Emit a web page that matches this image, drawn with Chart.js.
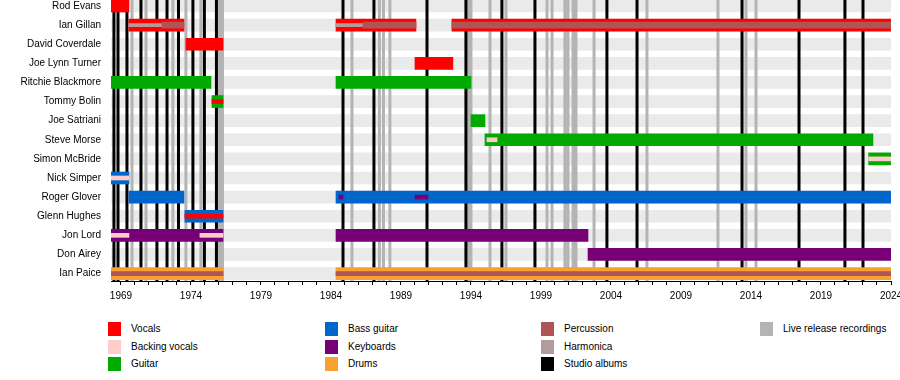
<!DOCTYPE html>
<html><head><meta charset="utf-8">
<script src="https://cdn.jsdelivr.net/npm/chart.js@4/dist/chart.umd.min.js"></script>
<style>
html,body{margin:0;padding:0;background:#fff;overflow:hidden;}
#wrap{position:relative;width:900px;height:380px;}
#c{position:absolute;left:0;top:0;}
.lg{position:absolute;font:10px "Liberation Sans",Arial,sans-serif;color:#000;white-space:nowrap;}
.sw{position:absolute;width:13px;height:14px;}
</style></head><body>
<div id="wrap"><canvas id="c" width="900" height="310"></canvas><div id="legend"></div></div>
<script>
// ---- data ----
const members = ['Rod Evans','Ian Gillan','David Coverdale','Joe Lynn Turner','Ritchie Blackmore','Tommy Bolin','Joe Satriani','Steve Morse','Simon McBride','Nick Simper','Roger Glover','Glenn Hughes','Jon Lord','Don Airey','Ian Paice'];
const timelineStart = 1968.29;
const timelineEnd = 2024.0;
const tickLabels = ['1969','1974','1979','1984','1989','1994','1999','2004','2009','2014','2019','2024'];

const vocals = [['Rod Evans',1968.29,1969.57],['Ian Gillan',1969.57,1973.5],['Ian Gillan',1984.36,1990.07],['Ian Gillan',1992.64,2024.0],['David Coverdale',1973.64,1976.29],['Joe Lynn Turner',1990.0,1992.71]];
const guitar = [['Ritchie Blackmore',1968.29,1975.43],['Ritchie Blackmore',1984.36,1994.0],['Tommy Bolin',1975.5,1976.29],['Joe Satriani',1994.0,1995.0],['Steve Morse',1995.0,2022.71],['Simon McBride',2022.4,2024.0]];
const bass = [['Nick Simper',1968.29,1969.57],['Roger Glover',1969.57,1973.5],['Roger Glover',1984.36,2024.0],['Glenn Hughes',1973.57,1976.29]];
const keyboards = [['Jon Lord',1968.29,1976.29],['Jon Lord',1984.36,2002.36],['Don Airey',2002.36,2024.0]];
const drums = [['Ian Paice',1968.29,1976.29],['Ian Paice',1984.36,2024.0]];
const additionalVocals = [['Tommy Bolin',1975.5,1976.29],['Glenn Hughes',1973.57,1976.29]];
const backingVocals = [['Nick Simper',1968.29,1969.57],['Jon Lord',1968.29,1969.57],['Jon Lord',1974.64,1976.29],['Steve Morse',1995.14,1995.86],['Simon McBride',2022.4,2024.0]];
const additionalKeyboards = [['Roger Glover',1984.57,1984.86],['Roger Glover',1990.0,1990.93]];
const percussionVocalist = [['Ian Gillan',1971.93,1973.5],['Ian Gillan',1986.29,1990.07],['Ian Gillan',1992.64,2024.0]];
const percussionDrummer = [['Ian Paice',1968.29,1976.29],['Ian Paice',1984.36,2024.0]];
const harmonica = [['Ian Gillan',1969.57,1973.5],['Ian Gillan',1984.36,1990.07],['Ian Gillan',1992.64,2024.0]];

const studioAlbums = [1968.5,1968.79,1969.43,1970.43,1971.57,1972.29,1973.11,1974.14,1974.96,1975.82,1984.86,1987.07,1990.86,1993.64,1996.21,1998.57,2003.71,2005.86,2013.36,2017.43,2020.71,2022.0];
const liveReleases = [1969.79,1970.79,1972.71,1973.64,1974.71,1976.04,1976.25,1985.5,1987.46,1987.75,1988.21,1993.79,1994.0,1995.36,1996.5,1999.43,1999.79,2000.71,2000.93,2001.29,2001.5,2002.79,2006.57,2011.64,2013.64,2014.36];

const legendLabels = ['Vocals','Backing vocals','Guitar','Bass guitar','Keyboards','Drums','Percussion','Harmonica','Studio albums','Live release recordings'];
const legendColors = ['#ff0000','#ffcccc','#00aa00','#0066cc','#770077','#f8a030','#b05555','#b39b9b','#000000','#b4b4b4'];

// ---- build ----
const C = {vocals:'#ff0000',bgv:'#ffcccc',guitar:'#00aa00',bass:'#0066cc',keys:'#770077',drums:'#f8a030',perc:'#b05555',harm:'#b39b9b',studio:'#000000',live:'#b4b4b4',row:'#eaeaea'};
const rowOf = n => members.indexOf(n);
const toBars = arr => arr.map(([m,s,e]) => ({x:[s,e], y:rowOf(m)}));
const yMin = -0.314, yMax = 14.39;
const toLines = arr => { const pts=[]; arr.forEach(v => { pts.push({x:v,y:yMin},{x:v,y:yMax},{x:null,y:null}); }); return pts; };

function barDs(data, color, thick, order){
  return {type:'bar', data:toBars(data), backgroundColor:color, barThickness:thick, grouped:false, borderWidth:0, borderSkipped:false, order:order};
}
function lineDs(data, color, width, order){
  return {type:'line', data:toLines(data), borderColor:color, borderWidth:width, pointRadius:0, pointHoverRadius:0, fill:false, tension:0, borderCapStyle:'butt', spanGaps:false, order:order};
}

const datasets = [
  {type:'bar', data:members.map((m,i)=>({x:[timelineStart,timelineEnd], y:i})), backgroundColor:C.row, barThickness:12, grouped:false, borderWidth:0, borderSkipped:false, order:30},
  lineDs(liveReleases, C.live, 3, 25),
  lineDs(studioAlbums, C.studio, 3, 24),
  barDs(vocals, C.vocals, 12, 10),
  barDs(guitar, C.guitar, 12, 10),
  barDs(bass, C.bass, 12, 10),
  barDs(keyboards, C.keys, 12, 10),
  barDs(drums, C.drums, 12, 10),
  barDs(harmonica, C.harm, 3, 8),
  barDs(percussionVocalist, C.perc, 6, 7),
  barDs(percussionDrummer, C.perc, 4, 7),
  barDs(additionalVocals, C.vocals, 4, 6),
  barDs(backingVocals, C.bgv, 4, 6),
  barDs(additionalKeyboards, C.keys, 4, 6)
];

const FONT = {family:'"Liberation Sans", Arial, sans-serif', size:10};
const years = []; for (let y = 1969; y <= 2024; y++) years.push(y);

new Chart(document.getElementById('c'), {
  type:'bar',
  data:{datasets},
  options:{
    indexAxis:'y',
    responsive:false,
    devicePixelRatio:1,
    animation:false,
    events:[],
    layout:{padding:0},
    plugins:{legend:{display:false}, tooltip:{enabled:false}},
    scales:{
      x:{
        type:'linear', min:timelineStart, max:timelineEnd, offset:false,
        afterBuildTicks:s=>{ s.ticks = years.map(v=>({value:v})); },
        afterFit:s=>{ s.height = 29; s.paddingLeft = 0; s.paddingRight = 9; },
        ticks:{autoSkip:false, maxRotation:0, minRotation:0, padding:5, color:'#000', font:FONT,
          callback:v=> tickLabels.includes(String(v)) ? String(v) : ''},
        grid:{display:true, offset:false, drawOnChartArea:false, drawTicks:true, tickLength:4, color:'#000', tickColor:'#000', lineWidth:1},
        border:{display:true, color:'#000', width:1}
      },
      y:{
        type:'linear', reverse:true, min:yMin, max:yMax, offset:false,
        afterBuildTicks:s=>{ s.ticks = members.map((m,i)=>({value:i})); },
        afterFit:s=>{ s.width = 111; s.paddingTop = 0; s.paddingBottom = 0; },
        ticks:{autoSkip:false, padding:10, color:'#000', font:FONT, callback:v=>members[v]},
        grid:{display:false, drawTicks:false, offset:false},
        border:{display:false}
      }
    }
  }
});

// legend
const lg = document.getElementById('legend');
const colX = [108, 325, 541, 760], rowY = [322, 340, 357];
legendLabels.forEach((lab,i)=>{
  const col = Math.floor(i/3), row = i%3;
  const sw = document.createElement('div'); sw.className='sw';
  sw.style.left = colX[col]+'px'; sw.style.top = rowY[row]+'px'; sw.style.background = legendColors[i];
  const t = document.createElement('div'); t.className='lg'; t.textContent = lab;
  t.style.left = (colX[col]+23)+'px'; t.style.top = (rowY[row]+1)+'px';
  lg.appendChild(sw); lg.appendChild(t);
});
</script>
</body></html>
